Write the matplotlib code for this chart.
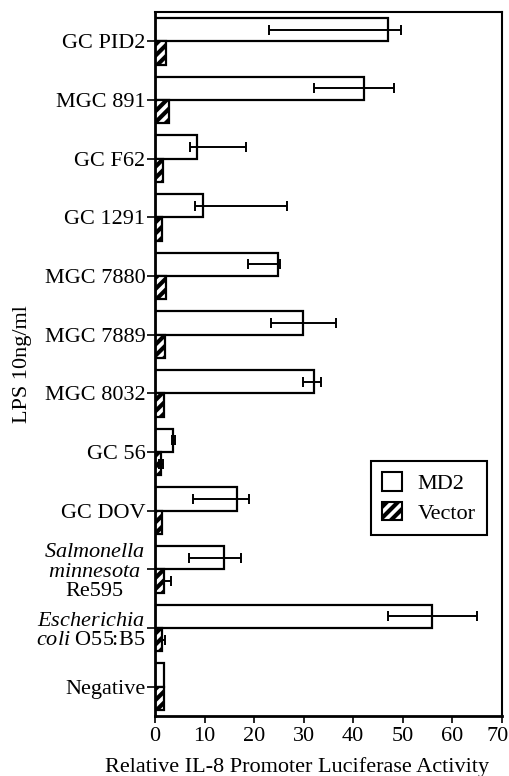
import matplotlib

matplotlib.use("Agg")
import matplotlib.pyplot as plt
import matplotlib.transforms as mtransforms
import numpy as np
from matplotlib.patches import Patch

plt.rcParams["font.family"] = ["Liberation Serif", "DejaVu Serif"]
plt.rcParams["mathtext.fontset"] = "custom"
plt.rcParams["mathtext.rm"] = "Liberation Serif"
plt.rcParams["mathtext.it"] = "Liberation Serif:italic"
plt.rcParams["hatch.linewidth"] = 3.0

categories = [
    "GC PID2", "MGC 891", "GC F62", "GC 1291", "MGC 7880", "MGC 7889",
    "MGC 8032", "GC 56", "GC DOV",
    "$\\mathit{Salmonella}$\n$\\mathit{minnesota}$\nRe595",
    "$\\mathit{Escherichia}$\n$\\mathit{coli}$ O55:B5",
    "Negative",
]
md2 = [47.0, 42.1, 8.5, 9.7, 24.8, 29.9, 32.1, 3.6, 16.5, 13.9, 55.8, 1.8]
md2_low = [23.0, 32.1, 7.1, 8.1, 18.7, 23.4, 29.9, 3.4, 7.7, 6.9, 47.0, 1.8]
md2_high = [49.6, 48.2, 18.3, 26.6, 25.2, 36.5, 33.5, 4.0, 19.0, 17.3, 64.9, 1.8]
vector = [2.3, 2.8, 1.6, 1.5, 2.2, 2.0, 1.8, 1.2, 1.4, 1.8, 1.4, 1.8]
vector_low = [2.3, 2.8, 1.6, 1.5, 2.2, 2.0, 1.8, 0.9, 1.4, 1.8, 1.4, 1.8]
vector_high = [2.3, 2.8, 1.6, 1.5, 2.2, 2.0, 1.8, 1.6, 1.4, 3.2, 2.0, 1.8]

y = np.arange(len(categories))
h = 0.4
md2 = np.array(md2)
vector = np.array(vector)
md2_err = [md2 - np.array(md2_low), np.array(md2_high) - md2]
vec_err = [vector - np.array(vector_low), np.array(vector_high) - vector]

fig = plt.figure(figsize=(5.09, 7.76), dpi=100)
ax = fig.add_axes([0.3045, 0.0773, 0.6815, 0.9072])

ax.barh(y - h / 2, md2, h, color="white", edgecolor="black", linewidth=1.6,
        label="MD2")
ax.barh(y + h / 2, vector, h, color="white", edgecolor="black", linewidth=1.6,
        hatch="///", label="Vector")
ax.errorbar(md2, y - h / 2, xerr=md2_err, fmt="none", ecolor="black",
            elinewidth=1.4, capsize=3.6, capthick=1.4)
ax.errorbar(vector, y + h / 2, xerr=vec_err, fmt="none", ecolor="black",
            elinewidth=1.4, capsize=3.6, capthick=1.4)

ax.set_ylim(len(categories) - 0.5, -0.5)
ax.set_xlim(0, 70)
ax.set_xticks(np.arange(0, 71, 10))
ax.set_yticks(y)
ax.set_yticklabels(categories, fontsize=16, multialignment="center",
                   linespacing=1.05)
ax.tick_params(axis="x", labelsize=16, length=5, width=1.2, pad=3)
ax.tick_params(axis="y", length=6, width=1.2, pad=1)

# keep the "70" inside the canvas
last = ax.get_xticklabels()[-1]
last.set_transform(last.get_transform() +
                   mtransforms.ScaledTranslation(-4 / 100, 0, fig.dpi_scale_trans))

for side in ["left", "bottom"]:
    ax.spines[side].set_linewidth(2)
for side in ["top", "right"]:
    ax.spines[side].set_linewidth(1.5)

ax.set_xlabel("Relative IL-8 Promoter Luciferase Activity", fontsize=16)
ax.xaxis.set_label_coords(0.41, -0.058)
ax.set_ylabel("LPS 10ng/ml", fontsize=16)
ax.yaxis.set_label_coords(-0.355, 0.5)

handles = [
    Patch(facecolor="white", edgecolor="black", linewidth=1.5, label="MD2"),
    Patch(facecolor="white", edgecolor="black", linewidth=1.5, hatch="///",
          label="Vector"),
]
leg = ax.legend(handles=handles, loc="upper right",
                bbox_to_anchor=(0.957, 0.362), fontsize=16, fancybox=False,
                edgecolor="black", framealpha=1, handlelength=0.9,
                handleheight=0.9, borderpad=0.5, labelspacing=0.35,
                handletextpad=0.7, borderaxespad=0)
leg.get_frame().set_linewidth(1.5)

fig.savefig("out.png", dpi=100)
